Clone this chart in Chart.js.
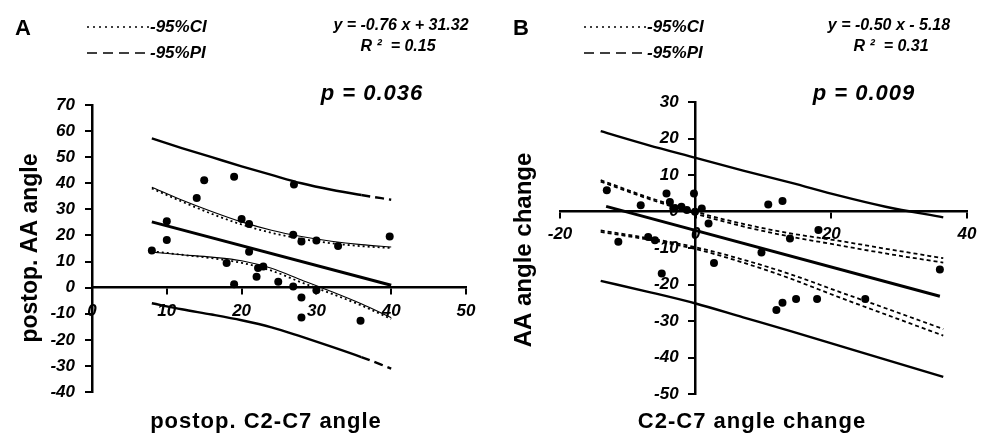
<!DOCTYPE html>
<html>
<head>
<meta charset="utf-8">
<script src="https://cdn.jsdelivr.net/npm/chart.js@4.4.1/dist/chart.umd.min.js"></script>
<style>
  body { margin: 0; background: #fff; }
  #wrap { position: relative; width: 994px; height: 435px; background: #fff; }
  canvas { position: absolute; top: 0; }
</style>
</head>
<body>
<div id="wrap">
  <canvas id="chartA" width="497" height="435" style="left:0"></canvas>
  <canvas id="chartB" width="497" height="435" style="left:497px"></canvas>
</div>
<script>
// ---- panel A: postop. C2-C7 angle vs postop. AA angle ----
var aXTicks = [0, 10, 20, 30, 40, 50];
var aYTicks = [70, 60, 50, 40, 30, 20, 10, 0, -10, -20, -30, -40];

var aPointsX = [8, 10, 10, 14, 15, 19, 27, 20, 21, 21, 18, 19, 22.2, 22, 22.9, 24.9, 26.9, 28, 30, 32.9, 39.8, 26.9, 28, 28, 35.9, 30];
var aPointsY = [14.2, 25.4, 18.3, 34.4, 41.2, 42.5, 39.5, 26.3, 24.4, 13.8, 9.4, 1.3, 7.5, 4.2, 8.1, 2.3, 20.3, 17.7, 18.1, 16, 19.6, 0.4, -3.8, -11.4, -12.7, -1];

var aFitX = [8, 40];
var aFitY = [25.2, 0.9];

var aBandX = [8, 12, 16, 20, 24, 28, 32, 36, 40];
var aCiUpper = [38, 33, 28.3, 24.2, 21, 18.7, 17, 15.9, 15.2];
var aCiUpperThin = [38.5, 33.6, 29.2, 25.2, 22, 19.6, 17.8, 16.5, 15.6];
var aCiLower = [14, 12.6, 11.3, 9.5, 6.5, 2, -2.3, -6.8, -12];
var aCiLowerThin = [13.6, 12.6, 11.7, 10.3, 7.4, 2.9, -1.5, -6.2, -11.5];
var aPiUpper = [57.2, 53.5, 50, 46.5, 43.2, 40, 37.5, 35.5, 33.7];
var aPiLower = [-6, -8.3, -10.3, -12.5, -15.2, -18.8, -22.6, -26.6, -31];

// ---- panel B: C2-C7 angle change vs AA angle change ----
var bXTicks = [-20, 0, 20, 40];
var bYTicks = [30, 20, 10, 0, -10, -20, -30, -40, -50];

var bPointsX = [-13.1, -11.4, -8.1, -4.3, -3.8, -3.3, -2.1, -1.3, -0.25, -0.1, 0.9, 1.9, -7, -6, -5, 2.7, 10.7, 9.7, 12.8, 18.1, 36, 11.9, 12.8, 14.8, 17.9, 25, 13.9];
var bPointsY = [5.8, -8.3, 1.7, 4.9, 2.6, 0.8, 1.3, 0.4, 4.9, -0.1, 0.8, -3.3, -7, -7.9, -17, -14.1, 1.9, -11.2, 2.9, -5.1, -15.9, -27, -25, -24, -24, -24, -7.4];

var bFitX = [-13.2, 36];
var bFitY = [1.4, -23.2];

var bBandX = [-14, -7, 0, 7, 14, 21, 28, 36.5];
var bCiUpper = [8.6, 3.9, -0.1, -3.4, -6, -8, -10.2, -12.8];
var bCiUpperIn = [8.2, 3.5, -0.6, -4.1, -6.9, -9.2, -11.5, -14];
var bCiLower = [-5.6, -7.7, -10.3, -14, -18.4, -23.4, -28.2, -34];
var bCiLowerIn = [-5.2, -7.3, -9.8, -13.2, -17.2, -21.9, -26.5, -32.2];
var bPiUpper = [22, 18.2, 14.7, 11.2, 7.9, 4.4, 1.3, -1.6];
var bPiLower = [-19, -22, -25.2, -29, -32.8, -36.7, -40.6, -45.3];

var FONT = 'Arial, "Liberation Sans", sans-serif';
var tickFont = { family: FONT, size: 17, style: 'italic', weight: 'bold' };

function pts(xs, ys) {
    return xs.map(function (x, i) { return { x: x, y: ys[i] }; });
}

function pointSet(xs, ys) {
    return {
        data: pts(xs, ys),
        showLine: false,
        pointRadius: 4,
        pointBackgroundColor: '#000',
        pointBorderWidth: 0
    };
}

function lineSet(xs, ys, width, dash, lastDash) {
    var ds = {
        data: pts(xs, ys),
        showLine: true,
        borderColor: '#000',
        borderWidth: width,
        borderDash: dash || [],
        pointRadius: 0,
        cubicInterpolationMode: 'monotone'
    };
    if (lastDash) {
        ds.segment = {
            borderDash: function (c) { return c.p1DataIndex === xs.length - 1 ? lastDash : undefined; }
        };
    }
    return ds;
}

function axis(ticks, pos, vertical) {
    var t = { stepSize: Math.abs(ticks[1] - ticks[0]), autoSkip: false, color: '#000', font: tickFont, padding: 7 };
    // an axis placed on a value draws its labels flush with the line, so keep a gap
    if (vertical) t.callback = function (v) { return v + '\u2003'; };
    return {
        type: 'linear',
        min: Math.min.apply(null, ticks),
        max: Math.max.apply(null, ticks),
        position: pos,
        ticks: t,
        grid: { drawOnChartArea: false, drawTicks: true, tickLength: 6, color: '#000', lineWidth: 2 },
        border: { color: '#000', width: 2.5 }
    };
}

// texts and legend samples around the plot
function panelText(spec) {
    return {
        id: 'panelText',
        afterDraw: function (chart) {
            var ctx = chart.ctx;
            ctx.save();
            ctx.strokeStyle = '#000';
            ctx.fillStyle = '#000';
            spec.lines.forEach(function (l) {
                ctx.beginPath();
                ctx.lineWidth = l.width;
                ctx.setLineDash(l.dash);
                ctx.moveTo(l.x1, l.y);
                ctx.lineTo(l.x2, l.y);
                ctx.stroke();
            });
            ctx.setLineDash([]);
            spec.texts.forEach(function (t) {
                ctx.save();
                ctx.font = t.font;
                ctx.letterSpacing = t.spacing || '0px';
                ctx.textAlign = t.align || 'left';
                ctx.textBaseline = t.baseline || 'alphabetic';
                ctx.translate(t.x, t.y);
                if (t.rotate) ctx.rotate(-Math.PI / 2);
                ctx.fillText(t.text, 0, 0);
                ctx.restore();
            });
            ctx.restore();
        }
    };
}

function legendLines() {
    return [
        { x1: 87, x2: 149, y: 27, width: 1.6, dash: [2, 4] },
        { x1: 87, x2: 148, y: 53, width: 1.4, dash: [10, 6] }
    ];
}

var small = 'italic bold 17px ' + FONT;
var big = 'italic bold 22px ' + FONT;
var title = 'bold 22px ' + FONT;

var textsA = [
    { text: 'A', font: 'bold 22px ' + FONT, x: 15, y: 35 },
    { text: '-95%CI', font: small, x: 150, y: 32 },
    { text: '-95%PI', font: small, x: 150, y: 58 },
    { text: 'y = -0.76 x + 31.32', font: 'italic bold 16px ' + FONT, x: 401, y: 30, align: 'center' },
    { text: 'R ²  = 0.15', font: 'italic bold 16px ' + FONT, x: 398, y: 51, align: 'center' },
    { text: 'p = 0.036', font: big, spacing: '1px', x: 372, y: 100, align: 'center' },
    { text: 'postop. AA angle', font: 'bold 23px ' + FONT, x: 31, y: 248, align: 'center', baseline: 'middle', rotate: true },
    { text: 'postop. C2-C7 angle', font: title, spacing: '1px', x: 266, y: 428, align: 'center' }
];

var textsB = [
    { text: 'B', font: 'bold 22px ' + FONT, x: 16, y: 35 },
    { text: '-95%CI', font: small, x: 150, y: 32 },
    { text: '-95%PI', font: small, x: 150, y: 58 },
    { text: 'y = -0.50 x - 5.18', font: 'italic bold 16px ' + FONT, x: 392, y: 30, align: 'center' },
    { text: 'R ²  = 0.31', font: 'italic bold 16px ' + FONT, x: 394, y: 51, align: 'center' },
    { text: 'p = 0.009', font: big, spacing: '1px', x: 367, y: 100, align: 'center' },
    { text: 'AA angle change', font: 'bold 24px ' + FONT, x: 27, y: 250, align: 'center', baseline: 'middle', rotate: true },
    { text: 'C2-C7 angle change', font: title, spacing: '1px', x: 255, y: 428, align: 'center' }
];

new Chart(document.getElementById('chartA'), {
    type: 'scatter',
    data: {
        datasets: [
            pointSet(aPointsX, aPointsY),
            lineSet(aFitX, aFitY, 3),
            lineSet(aBandX, aCiUpper, 1.8, [2, 3]),
            lineSet(aBandX, aCiUpperThin, 1.1),
            lineSet(aBandX, aCiLower, 1.8, [2, 3]),
            lineSet(aBandX, aCiLowerThin, 1.1),
            lineSet(aBandX, aPiUpper, 2.4, [], [9, 5]),
            lineSet(aBandX, aPiLower, 2.4, [], [9, 5])
        ]
    },
    options: {
        responsive: false,
        animation: false,
        devicePixelRatio: 1,
        layout: { padding: { left: 92, right: 31, top: 105, bottom: 43 } },
        plugins: { legend: { display: false }, tooltip: { enabled: false } },
        scales: {
            x: axis(aXTicks, { y: 0 }, false),
            y: axis(aYTicks, { x: 0 }, true)
        }
    },
    plugins: [panelText({ lines: legendLines(), texts: textsA })]
});

new Chart(document.getElementById('chartB'), {
    type: 'scatter',
    data: {
        datasets: [
            pointSet(bPointsX, bPointsY),
            lineSet(bFitX, bFitY, 3),
            lineSet(bBandX, bCiUpper, 1.8, [4, 3]),
            lineSet(bBandX, bCiUpperIn, 1.8, [4, 3]),
            lineSet(bBandX, bCiLower, 1.8, [4, 3]),
            lineSet(bBandX, bCiLowerIn, 1.8, [4, 3]),
            lineSet(bBandX, bPiUpper, 2.4),
            lineSet(bBandX, bPiLower, 2.4)
        ]
    },
    options: {
        responsive: false,
        animation: false,
        devicePixelRatio: 1,
        layout: { padding: { left: 63, right: 27, top: 102, bottom: 41 } },
        plugins: { legend: { display: false }, tooltip: { enabled: false } },
        scales: {
            x: axis(bXTicks, { y: 0 }, false),
            y: axis(bYTicks, { x: 0 }, true)
        }
    },
    plugins: [panelText({ lines: legendLines(), texts: textsB })]
});
</script>
</body>
</html>
